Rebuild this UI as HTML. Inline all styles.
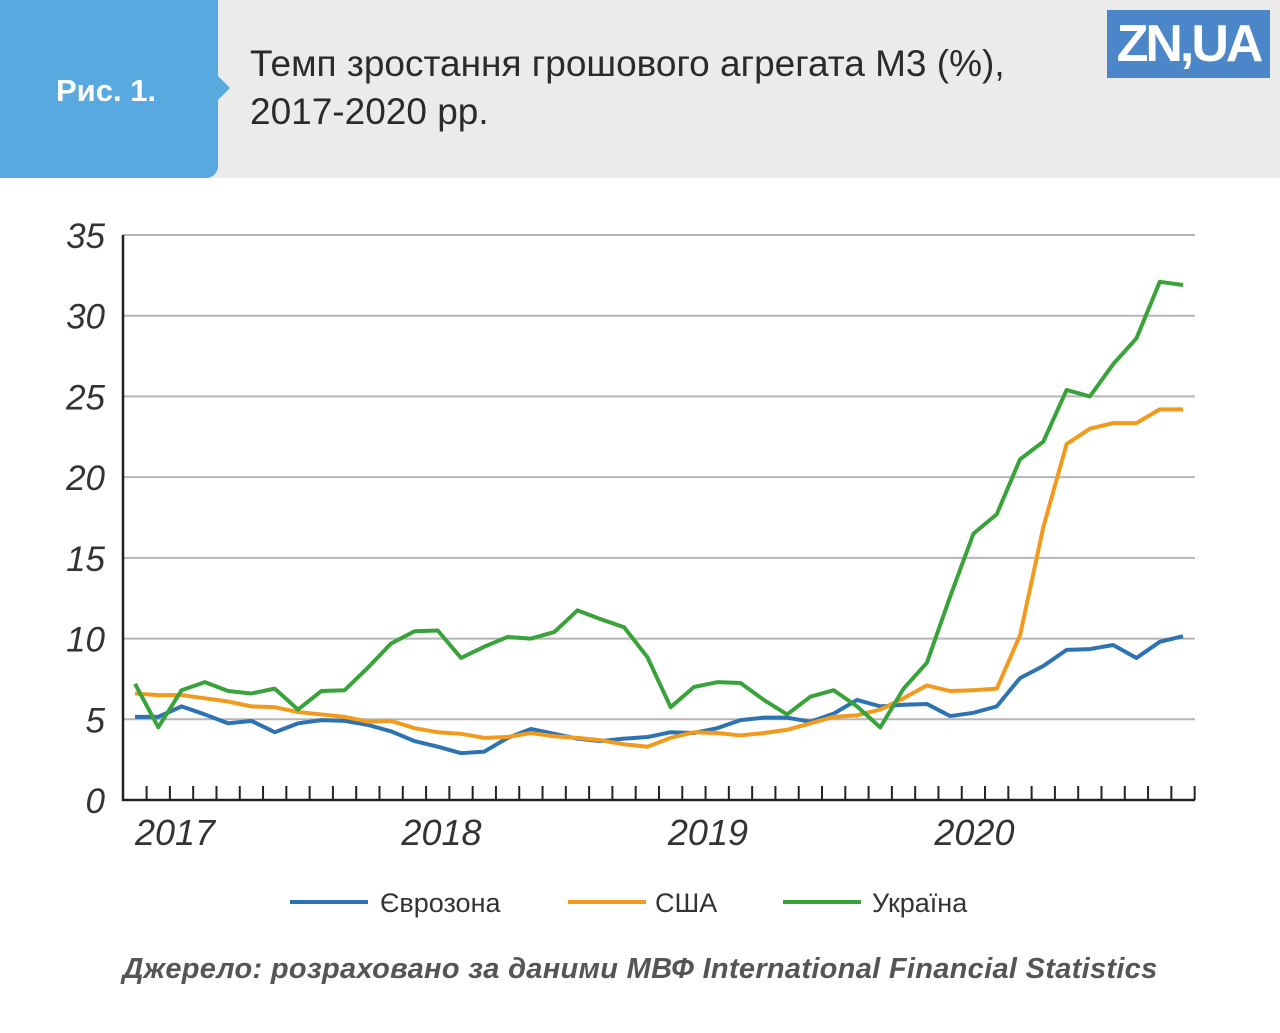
<!DOCTYPE html>
<html><head><meta charset="utf-8"><style>
body{margin:0;width:1280px;height:1033px;background:#fff;font-family:"Liberation Sans",sans-serif;overflow:hidden;position:relative}
.hdr{position:absolute;left:0;top:0;width:1280px;height:178px;background:#ebebeb}
.tab{position:absolute;left:0;top:0;width:218px;height:178px;background:#58a9df;border-bottom-right-radius:12px}
.tab:after{content:"";position:absolute;right:-12px;top:76px;border-left:12px solid #58a9df;border-top:12px solid transparent;border-bottom:12px solid transparent}
.fig{position:absolute;left:56px;top:73px;color:#fff;font-weight:bold;font-size:31px}
.title{position:absolute;left:250px;top:40px;font-size:37px;color:#2b2b2b;line-height:48px}
.logo{position:absolute;left:1107px;top:10px;width:163px;height:68px;background:#4a86c8;color:#fff;font-weight:bold;font-size:52px;line-height:68px;text-align:center;letter-spacing:-3px}
.src{position:absolute;left:0;width:1280px;top:953px;text-align:center;font-style:italic;font-weight:bold;font-size:29px;color:#555;letter-spacing:0.3px}
</style></head><body>
<div class="hdr"></div>
<div class="tab"></div>
<div class="fig">Рис. 1.</div>
<div class="title">Темп зростання грошового агрегата М3 (%),<br>2017-2020 рр.</div>
<div class="logo">ZN,UA</div>
<svg id="chart" width="1280" height="1033" style="position:absolute;left:0;top:0"></svg>
<div class="src">Джерело: розраховано за даними МВФ International Financial Statistics</div>
<script>
const yTicks=[0,5,10,15,20,25,30,35];
const years=["2017","2018","2019","2020"];
const euro=[5.15,5.15,5.8,5.3,4.75,4.9,4.2,4.75,4.95,4.9,4.65,4.25,3.65,3.3,2.9,3.0,3.85,4.4,4.1,3.8,3.65,3.8,3.9,4.2,4.15,4.45,4.95,5.1,5.1,4.85,5.35,6.2,5.8,5.9,5.95,5.2,5.4,5.8,7.55,8.3,9.3,9.35,9.6,8.8,9.8,10.15];
const usa=[6.6,6.5,6.5,6.3,6.1,5.8,5.75,5.45,5.3,5.15,4.85,4.9,4.45,4.2,4.1,3.85,3.9,4.15,3.95,3.85,3.7,3.45,3.3,3.85,4.2,4.15,4.0,4.15,4.35,4.75,5.15,5.25,5.6,6.3,7.1,6.75,6.8,6.9,10.2,16.9,22.05,23.0,23.35,23.35,24.2,24.2];
const ukr=[7.2,4.5,6.8,7.3,6.75,6.6,6.9,5.6,6.75,6.8,8.2,9.7,10.45,10.5,8.8,9.5,10.1,10.0,10.4,11.75,11.2,10.7,8.85,5.75,7.0,7.3,7.25,6.2,5.3,6.4,6.8,5.8,4.5,6.9,8.5,12.6,16.5,17.7,21.1,22.2,25.4,25.0,27.0,28.6,32.1,31.9];
const svg=document.getElementById('chart');const NS='http://www.w3.org/2000/svg';
const x0=123,x1=1195,yb=800,yt=235;
const X=i=>135+i*23.29;
const Y=v=>yb-(v/35)*(yb-yt);
function mk(t,a){const e=document.createElementNS(NS,t);for(const k in a)e.setAttribute(k,a[k]);svg.appendChild(e);return e;}
yTicks.forEach(v=>{
 if(v>0){const g=mk('line',{x1:x0,x2:x1,y1:Y(v),y2:Y(v),stroke:'#b5b5b5','stroke-width':2});
 
 }
 const t=mk('text',{x:105,y:Y(v)+13,'text-anchor':'end','font-size':35,'font-style':'italic',fill:'#333','font-family':'Liberation Sans'});
 t.textContent=v;
 
 
});
for(let k=0;k<46;k++){const tx=X(k)+11.6;const l=mk('line',{x1:tx,x2:tx,y1:yb-14,y2:yb,stroke:'#222','stroke-width':2});
 
 }
const ax=mk('path',{d:`M${x0},${yt} V${yb} H${x1}`,fill:'none',stroke:'#222','stroke-width':2.5});


years.forEach((y,i)=>{const t=mk('text',{x:X(i*12)+40-13*i,y:845,'text-anchor':'middle','font-size':36,'font-style':'italic',fill:'#333','font-family':'Liberation Sans'});
 t.textContent=y;
 
 });
[[euro,'#2d72b3','series-eurozone'],[usa,'#f29a1c','series-usa'],[ukr,'#3aa23a','series-ukraine']].forEach(([d,c,n])=>{
 const p=mk('polyline',{points:d.map((v,i)=>X(i)+','+Y(v)).join(' '),fill:'none',stroke:c,'stroke-width':4,'stroke-linejoin':'round'});
 
 
});
[[290,380,'#2d72b3','Єврозона'],[568,655,'#f29a1c','США'],[783,872,'#3aa23a','Україна']].forEach(([lx,tx,c,s])=>{
 const l=mk('line',{x1:lx,x2:lx+78,y1:902,y2:902,stroke:c,'stroke-width':4});
 
 
 const t=mk('text',{x:tx,y:912,'font-size':27,fill:'#333','font-family':'Liberation Sans'});
 t.textContent=s;
 
 
});
</script>
</body></html>
